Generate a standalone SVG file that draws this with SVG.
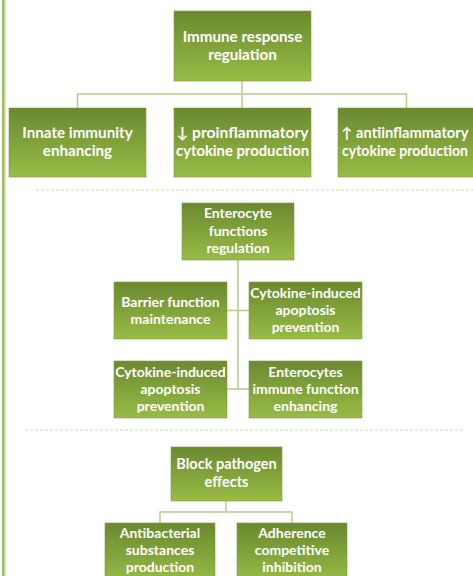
<svg xmlns="http://www.w3.org/2000/svg" width="473" height="576" viewBox="0 0 473 576">
<defs>
<linearGradient id="g" x1="0" y1="0" x2="0" y2="1">
<stop offset="0" stop-color="#6b8930"/>
<stop offset="1" stop-color="#98bc46"/>
</linearGradient>
<style>
.box{fill:url(#g);stroke:#7f9d42;stroke-width:0.6}
.t{font-family:Lato,"DejaVu Sans",sans-serif;font-weight:700;font-size:14px;fill:#fff;text-anchor:middle}
.L{font-size:15.2px}
.M{font-size:14.5px}
.c{fill:none;stroke:#b8cc8e;stroke-width:1.5}
.sep{stroke:#cddcae;stroke-width:1;stroke-dasharray:3 2}
</style>
</defs>
<rect width="473" height="576" fill="#fff"/>
<rect x="2" y="0" width="2" height="576" fill="#9ebd5e"/>
<rect x="4" y="0" width="1.5" height="576" fill="#c0d596"/>
<line class="sep" x1="36" y1="190" x2="473" y2="190"/>
<line class="sep" x1="25" y1="430" x2="463" y2="430"/>
<g id="connectors">
<path class="c" d="M242 81V108M77.5 108V94H406.5V108"/>
<path class="c" d="M238 260V389M227 310.5H249M227 389H249"/>
<path class="c" d="M226 501V512M160 523V512H292V523"/>
</g>
<g id="n1"><rect class="box" x="174" y="11" width="137" height="70"/><text class="t L" x="242.5" y="42">Immune response</text><text class="t L" x="242.5" y="60">regulation</text></g>
<g id="n2"><rect class="box" x="9" y="108" width="137" height="69"/><text class="t L" x="77.5" y="138">Innate immunity</text><text class="t L" x="77.5" y="156">enhancing</text></g>
<g id="n3"><rect class="box" x="174" y="108" width="137" height="69"/><text class="t L" x="242.5" y="138" textLength="132" lengthAdjust="spacingAndGlyphs">↓ proinflammatory</text><text class="t L" x="242.5" y="156" textLength="133" lengthAdjust="spacingAndGlyphs">cytokine production</text></g>
<g id="n4"><rect class="box" x="338" y="108" width="137" height="69"/><text class="t M" x="405" y="138" textLength="127" lengthAdjust="spacingAndGlyphs">↑ antiinflammatory</text><text class="t M" x="405" y="156" textLength="126" lengthAdjust="spacingAndGlyphs">cytokine production</text></g>
<g id="n5"><rect class="box" x="182" y="203" width="112" height="57"/><text class="t" x="238" y="218">Enterocyte</text><text class="t" x="238" y="235.5">functions</text><text class="t" x="238" y="252.5">regulation</text></g>
<g id="n6"><rect class="box" x="114" y="282" width="113" height="57"/><text class="t" x="170.5" y="306.5">Barrier function</text><text class="t" x="170.5" y="323.5">maintenance</text></g>
<g id="n7"><rect class="box" x="249" y="282" width="113" height="57"/><text class="t" x="305.5" y="298">Cytokine-induced</text><text class="t" x="305.5" y="315">apoptosis</text><text class="t" x="305.5" y="332">prevention</text></g>
<g id="n8"><rect class="box" x="114" y="361" width="113" height="57"/><text class="t" x="170.5" y="377">Cytokine-induced</text><text class="t" x="170.5" y="394">apoptosis</text><text class="t" x="170.5" y="411">prevention</text></g>
<g id="n9"><rect class="box" x="249" y="361" width="113" height="57"/><text class="t" x="305.5" y="377">Enterocytes</text><text class="t" x="305.5" y="394">immune function</text><text class="t" x="305.5" y="411">enhancing</text></g>
<g id="n10"><rect class="box" x="171" y="447" width="111" height="54"/><text class="t M" x="226.5" y="469">Block pathogen</text><text class="t M" x="226.5" y="486.5">effects</text></g>
<g id="n11"><rect class="box" x="105" y="523" width="110" height="60"/><text class="t" x="160" y="538">Antibacterial</text><text class="t" x="160" y="555">substances</text><text class="t" x="160" y="572">production</text></g>
<g id="n12"><rect class="box" x="237" y="523" width="110" height="60"/><text class="t" x="292" y="538">Adherence</text><text class="t" x="292" y="555">competitive</text><text class="t" x="292" y="572">inhibition</text></g>
</svg>
